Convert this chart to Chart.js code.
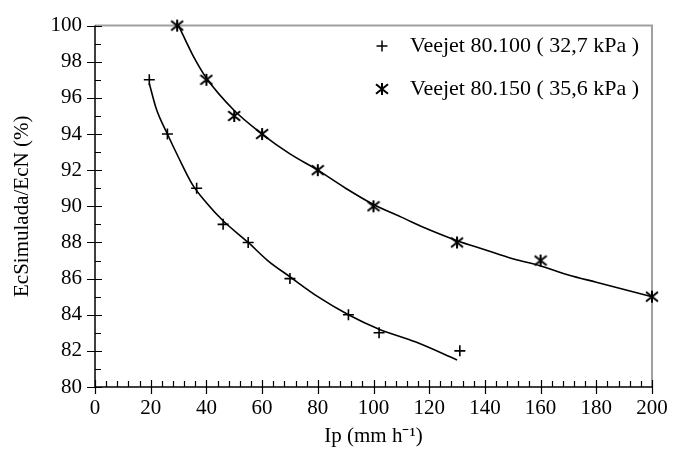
<!DOCTYPE html>
<html>
<head>
<meta charset="utf-8">
<script src="https://cdn.jsdelivr.net/npm/chart.js@4.4.0/dist/chart.umd.min.js"></script>
<style>
  html, body { margin: 0; padding: 0; background: #fff; }
</style>
</head>
<body>
<canvas id="chart" width="683" height="462"></canvas>
<script>
// measured points, Veejet 80.100 (+)
const ip100 = [19.5, 26, 36.5, 46, 55, 70, 91, 102, 131];
const ec100 = [97, 94, 91, 89, 88, 86, 84, 83, 82];
// measured points, Veejet 80.150 (*)
const ip150 = [29.5, 40, 50, 60, 80, 100, 130, 160, 200];
const ec150 = [100, 97, 95, 94, 92, 90, 88, 87, 85];

// fitted curves
const fitX100 = [19.5, 22, 26, 30, 35, 40, 46, 55, 62, 70, 80, 91, 102, 115, 130];
const fitY100 = [96.8, 95.4, 94.0, 92.7, 91.2, 90.2, 89.2, 88.0, 87.0, 86.1, 85.0, 84.0, 83.2, 82.5, 81.5];
const fitX150 = [30, 35, 40, 50, 60, 70, 80, 90, 100, 110, 120, 130, 140, 150, 160, 170, 180, 190, 200];
const fitY150 = [100, 98.4, 97.1, 95.3, 94.0, 92.9, 92.0, 91.0, 90.1, 89.4, 88.7, 88.1, 87.6, 87.1, 86.7, 86.2, 85.8, 85.4, 85.0];

const legendLabels = ["Veejet 80.100 ( 32,7 kPa )", "Veejet 80.150 ( 35,6 kPa )"];

const FONT = "Liberation Serif";
const pts = (xs, ys) => xs.map((x, i) => ({ x: x, y: ys[i] }));

// asterisk marker: vertical bar + X
function asterisk(size) {
  const c = document.createElement("canvas");
  c.width = c.height = size;
  const g = c.getContext("2d");
  const m = size / 2, r = size / 2 - 1;
  g.strokeStyle = "#000";
  g.lineWidth = 2;
  g.beginPath();
  g.moveTo(m, m - r); g.lineTo(m, m + r);
  g.moveTo(m - r, m - r * 0.8); g.lineTo(m + r, m + r * 0.8);
  g.moveTo(m - r, m + r * 0.8); g.lineTo(m + r, m - r * 0.8);
  g.stroke();
  return c;
}
const starImg = asterisk(14);

function drawPlus(ctx, x, y, r) {
  ctx.beginPath();
  ctx.moveTo(x - r, y); ctx.lineTo(x + r, y);
  ctx.moveTo(x, y - r); ctx.lineTo(x, y + r);
  ctx.stroke();
}

// axes with crossing major ticks, inner minor ticks, grey frame, legend
const framePlugin = {
  id: "frame",
  beforeDatasetsDraw(chart) {
    const ctx = chart.ctx;
    const a = chart.chartArea;
    const xs = chart.scales.x, ys = chart.scales.y;
    ctx.save();
    ctx.strokeStyle = "#a0a0a0";
    ctx.lineWidth = 2;
    ctx.beginPath();
    ctx.moveTo(a.left, a.top); ctx.lineTo(a.right, a.top); ctx.lineTo(a.right, a.bottom);
    ctx.stroke();

    ctx.strokeStyle = "#000";
    ctx.lineWidth = 1.5;
    ctx.beginPath();
    ctx.moveTo(a.left, a.top); ctx.lineTo(a.left, a.bottom); ctx.lineTo(a.right, a.bottom);
    ctx.stroke();

    ctx.lineWidth = 1.2;
    ctx.beginPath();
    for (let v = 0; v <= 200; v += 4) {
      const px = Math.round(xs.getPixelForValue(v)) + 0.5;
      if (v % 20 === 0) { ctx.moveTo(px, a.bottom - 7); ctx.lineTo(px, a.bottom + 7); }
      else { ctx.moveTo(px, a.bottom - 6); ctx.lineTo(px, a.bottom); }
    }
    for (let v = 80; v <= 100; v += 1) {
      const py = Math.round(ys.getPixelForValue(v)) + 0.5;
      if (v % 2 === 0) { ctx.moveTo(a.left - 8, py); ctx.lineTo(a.left + 7, py); }
      else { ctx.moveTo(a.left, py); ctx.lineTo(a.left + 6, py); }
    }
    ctx.stroke();

    // legend
    ctx.lineWidth = 1.5;
    drawPlus(ctx, 382, 46, 5.5);
    ctx.drawImage(starImg, 382 - 7, 89 - 7);
    ctx.fillStyle = "#000";
    ctx.font = "22px '" + FONT + "'";
    ctx.textBaseline = "middle";
    ctx.textAlign = "left";
    ctx.fillText(legendLabels[0], 410, 46);
    ctx.fillText(legendLabels[1], 410, 89);
    ctx.restore();
  }
};

new Chart(document.getElementById("chart"), {
  type: "scatter",
  data: {
    datasets: [
      { data: pts(ip100, ec100), pointStyle: "cross", pointRadius: 5.5, borderColor: "#000", borderWidth: 1.6, backgroundColor: "#000", clip: false },
      { data: pts(ip150, ec150), pointStyle: starImg, pointRadius: 7, borderColor: "#000", backgroundColor: "#000", clip: false },
      { type: "line", data: pts(fitX100, fitY100), showLine: true, pointRadius: 0, borderColor: "#000", borderWidth: 1.6, fill: false, cubicInterpolationMode: "monotone", clip: false },
      { type: "line", data: pts(fitX150, fitY150), showLine: true, pointRadius: 0, borderColor: "#000", borderWidth: 1.6, fill: false, cubicInterpolationMode: "monotone", clip: false }
    ]
  },
  options: {
    responsive: false,
    animation: false,
    devicePixelRatio: 1,
    layout: { padding: { top: 17, right: 31, left: 0, bottom: 0 } },
    plugins: { legend: { display: false }, tooltip: { enabled: false } },
    scales: {
      x: {
        type: "linear", min: 0, max: 200,
        grid: { display: false, drawTicks: false },
        border: { display: false },
        ticks: { stepSize: 20, color: "#000", font: { family: FONT, size: 21 }, padding: 9, maxRotation: 0 },
        title: { display: true, text: "Ip (mm h\u207B\u00B9)", color: "#000", font: { family: FONT, size: 21 }, padding: { top: 0, bottom: 13 } },
        afterFit(scale) { scale.height = 75; }
      },
      y: {
        type: "linear", min: 80, max: 100,
        grid: { display: false, drawTicks: false },
        border: { display: false },
        ticks: { stepSize: 2, color: "#000", font: { family: FONT, size: 21 }, padding: 13 },
        title: { display: true, text: "EcSimulada/EcN (%)", color: "#000", font: { family: FONT, size: 21 }, padding: { top: 10, bottom: 0 } },
        afterFit(scale) { scale.width = 95; }
      }
    }
  },
  plugins: [framePlugin]
});
</script>
</body>
</html>
